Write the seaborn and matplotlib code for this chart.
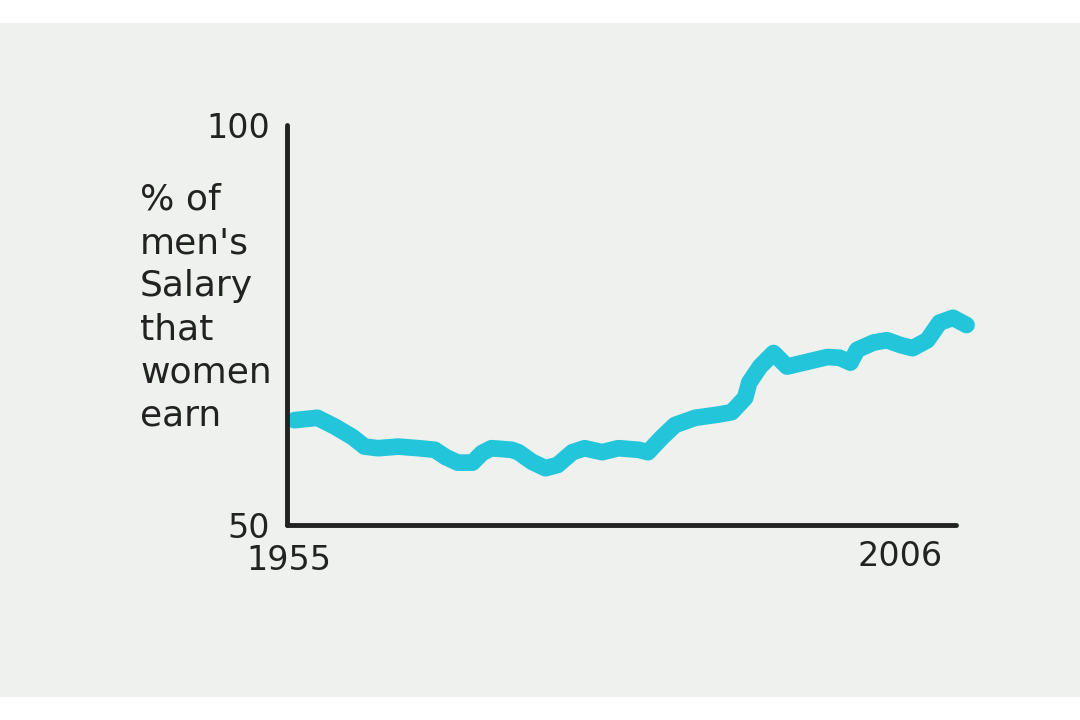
import matplotlib
matplotlib.use('Agg')
import matplotlib.pyplot as plt
import matplotlib.transforms as mtransforms
import seaborn as sns
import pandas as pd

# values
years = [1955.4, 1957.1, 1958.4, 1959.7, 1960.6, 1961.6, 1963.1, 1964.6, 1965.8,
         1966.6, 1967.5, 1968.6, 1969.3, 1970.0, 1971.5, 1972.0, 1973.0, 1974.0,
         1974.9, 1976.0, 1976.9, 1978.2, 1979.4, 1980.9, 1981.6, 1982.6, 1983.6,
         1985.1, 1986.8, 1987.8, 1988.8, 1989.1, 1989.9, 1990.9, 1991.9, 1993.4,
         1994.9, 1995.8, 1996.6, 1997.1, 1998.3, 1999.3, 2000.3, 2001.2, 2002.3,
         2003.2, 2004.2, 2005.2]
pct = [63.1, 63.4, 62.3, 61.0, 59.8, 59.6, 59.8, 59.6, 59.4,
       58.5, 57.8, 57.8, 59.0, 59.6, 59.4, 59.1, 57.9, 57.1,
       57.5, 59.1, 59.6, 59.1, 59.6, 59.4, 59.1, 60.9, 62.5,
       63.4, 63.8, 64.1, 65.9, 67.8, 69.8, 71.5, 69.8, 70.4,
       71.0, 70.9, 70.3, 71.9, 72.8, 73.1, 72.5, 72.1, 73.1,
       75.3, 75.9, 75.0]
x_ticks = [1955, 2006]
x_labels = ['1955', '2006']
y_ticks = [50, 100]
y_labels = ['50', '100']
ylabel_text = "% of\nmen's\nSalary\nthat\nwomen\nearn"

df = pd.DataFrame({'year': years, 'pct': pct})

sns.set_style("white")
plt.rcParams['font.family'] = ['DejaVu Sans']

paper = '#eef1ee'
ink = '#222222'

fig = plt.figure(figsize=(10.8, 7.2), dpi=100, facecolor='white')
# paper sheet behind the chart (white strips top and bottom)
fig.patches.append(plt.Rectangle((0, 23 / 720), 1, 674 / 720, transform=fig.transFigure,
                                 facecolor=paper, edgecolor='none', zorder=-5))

ax = fig.add_axes([287 / 1080, 195 / 720, 693 / 1080, 400 / 720])
ax.set_facecolor('none')
ax.set_zorder(2)

sns.lineplot(data=df, x='year', y='pct', ax=ax, color='#22c5d9', linewidth=12,
             solid_joinstyle='round', solid_capstyle='round')
for ln in ax.get_lines():
    ln.set_clip_on(False)

ax.set_xlim(1954.85, 2006.2)
ax.set_ylim(50, 100)

sns.despine(ax=ax)
for side in ['left', 'bottom']:
    ax.spines[side].set_linewidth(3.5)
    ax.spines[side].set_color(ink)
    ax.spines[side].set_capstyle('round')
ax.spines['bottom'].set_bounds(1954.85, 2004.4)

ax.set_xticks(x_ticks)
ax.set_xticklabels(x_labels)
ax.set_yticks(y_ticks)
ax.set_yticklabels(y_labels)
ax.tick_params(length=0, labelsize=24, labelcolor=ink)
ax.tick_params(axis='x', pad=14)
ax.tick_params(axis='y', pad=12)

# last year label sits a little to the left of the line end, like the drawing
xl = ax.get_xticklabels()
xl[-1].set_horizontalalignment('right')
xl[-1].set_transform(xl[-1].get_transform() +
                     mtransforms.ScaledTranslation(-0.35, 0.04, fig.dpi_scale_trans))

ax.set_xlabel('')
ax.set_ylabel('')
fig.text(140 / 1080, 1 - 183 / 720, ylabel_text, ha='left', va='top', fontsize=26,
         color=ink, linespacing=1.34, transform=fig.transFigure, zorder=3)

fig.savefig('out.png', dpi=100, facecolor=fig.get_facecolor())
